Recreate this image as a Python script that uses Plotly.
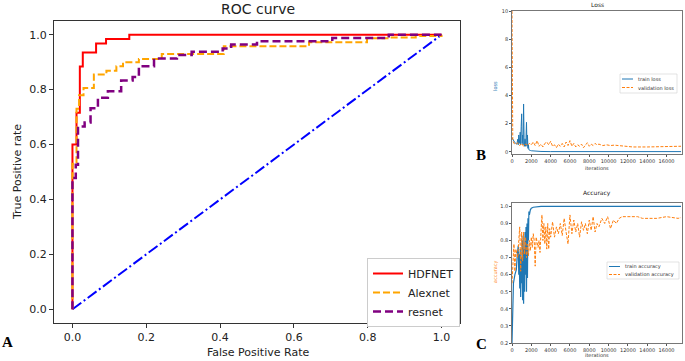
import plotly.graph_objects as go

# ---------------- ROC data ----------------
diag = [0.0, 1.0]
hdf_fpr = [0, 0, 0.011, 0.02, 0.028, 0.064, 0.091, 0.154, 1.0]
hdf_tpr = [0, 0.6, 0.716, 0.884, 0.935, 0.968, 0.984, 1.0, 1.0]
alex_fpr = [0, 0, 0.011, 0.018, 0.03, 0.058, 0.092, 0.119, 0.137, 0.18, 0.242, 0.41, 0.641, 0.798, 0.86, 0.93, 1.0]
alex_tpr = [0, 0.53, 0.73, 0.78, 0.806, 0.855, 0.869, 0.885, 0.9, 0.912, 0.93, 0.958, 0.973, 0.987, 0.99, 0.995, 1.0]
res_fpr = [0, 0, 0.009, 0.015, 0.033, 0.049, 0.069, 0.096, 0.132, 0.163, 0.18, 0.221, 0.283, 0.323, 0.407, 0.43, 0.5, 0.704, 0.857, 1.0]
res_tpr = [0, 0.478, 0.526, 0.666, 0.68, 0.732, 0.77, 0.794, 0.833, 0.846, 0.885, 0.913, 0.926, 0.938, 0.95, 0.964, 0.976, 0.988, 1.0, 1.0]
roc_names = ["HDFNET", "Alexnet", "resnet"]

# ---------------- Loss data ----------------
train_loss_iter = [0, 100, 200, 300, 400, 500, 600, 650, 700, 750,
                   800, 850, 900, 950, 1000, 1050, 1100, 1150, 1200, 1250,
                   1300, 1350, 1400, 1450, 1500, 1550, 1600, 1650, 1700, 1750,
                   1800, 1900, 2000, 2200, 2500, 3000, 4000, 17500]
train_loss = [1.0, 0.85, 0.75, 0.65, 0.6, 0.55, 0.9, 0.5, 1.2, 0.7,
              0.6, 1.4, 0.5, 1.8, 2.7, 0.6, 1.2, 0.5, 3.4, 1.0,
              0.4, 0.9, 0.4, 1.0, 2.1, 0.4, 1.2, 0.25, 0.5, 0.15,
              0.12, 0.1, 0.08, 0.06, 0.05, 0.03, 0.02, 0.02]
val_loss_iter = [0, 40, 80, 200, 400, 600, 800, 1000, 1200, 1400,
                 1600, 1800, 2000, 2200, 2400, 2600, 2800, 3000, 3200, 3400,
                 3600, 3800, 4000, 4200, 4400, 4600, 4800, 5000, 5200, 5400,
                 5600, 5800, 6000, 6200, 6400, 6600, 6800, 7000, 7200, 7400,
                 7600, 7800, 8000, 8200, 8400, 8600, 8800, 9000, 9400, 9800,
                 10200, 10600, 11000, 11400, 11800, 12500, 14000, 15500, 16500, 17500]
val_loss = [10.0, 3.0, 0.9, 0.6, 0.55, 0.65, 0.45, 0.6, 0.4, 0.55,
            0.45, 0.6, 0.5, 0.7, 0.45, 0.8, 0.4, 0.55, 0.35, 0.6,
            0.7, 0.5, 0.75, 0.4, 0.5, 0.3, 0.55, 0.4, 0.6, 0.35,
            0.7, 0.45, 0.8, 0.4, 0.6, 0.35, 0.5, 0.4, 0.55, 0.3,
            0.5, 0.65, 0.4, 0.55, 0.45, 0.6, 0.5, 0.55, 0.45, 0.5,
            0.45, 0.48, 0.45, 0.42, 0.38, 0.35, 0.35, 0.36, 0.38, 0.4]
loss_names = ["train loss", "validation loss"]

# ---------------- Accuracy data ----------------
train_acc_iter = [0, 50, 150, 300, 450, 550, 650, 700, 750, 800,
                  850, 900, 950, 1000, 1050, 1100, 1150, 1200, 1250, 1300,
                  1350, 1400, 1450, 1500, 1550, 1600, 1650, 1700, 1750, 1800,
                  1900, 2000, 2200, 2500, 3000, 17500]
train_acc = [0.2, 0.41, 0.55, 0.6, 0.63, 0.72, 0.77, 0.6, 0.72, 0.52,
             0.75, 0.47, 0.7, 0.55, 0.8, 0.45, 0.83, 0.43, 0.75, 0.5,
             0.85, 0.6, 0.88, 0.5, 0.9, 0.58, 0.93, 0.8, 0.97, 0.95,
             0.98, 0.99, 0.995, 0.998, 1.0, 1.0]
val_acc_iter = [0, 100, 200, 300, 400, 500, 600, 700, 800, 900,
                1000, 1100, 1200, 1300, 1400, 1500, 1600, 1700, 1800, 1900,
                2000, 2100, 2200, 2300, 2400, 2500, 2600, 2700, 2800, 2900,
                3000, 3100, 3200, 3300, 3400, 3500, 3600, 3700, 3800, 3900,
                4000, 4200, 4400, 4600, 4800, 5000, 5200, 5400, 5600, 5800,
                6000, 6200, 6400, 6600, 6800, 7000, 7200, 7400, 7600, 7800,
                8000, 8200, 8400, 8600, 8800, 9000, 9300, 9600, 9900, 10200,
                10500, 10800, 11100, 11400, 12000, 13000, 13500, 14000, 15000, 16000,
                16800, 17200, 17500]
val_acc = [0.55, 0.7, 0.78, 0.62, 0.75, 0.72, 0.7, 0.8, 0.88, 0.62,
           0.85, 0.68, 0.85, 0.72, 0.82, 0.7, 0.78, 0.71, 0.8, 0.74,
           0.82, 0.76, 0.84, 0.8, 0.65, 0.82, 0.78, 0.76, 0.8, 0.73,
           0.85, 0.95, 0.8, 0.9, 0.78, 0.88, 0.75, 0.9, 0.75, 0.87,
           0.82, 0.91, 0.82, 0.88, 0.84, 0.9, 0.83, 0.93, 0.85, 0.78,
           0.95, 0.84, 0.92, 0.85, 0.9, 0.82, 0.91, 0.86, 0.9, 0.84,
           0.92, 0.86, 0.94, 0.85, 0.9, 0.88, 0.93, 0.9, 0.94, 0.87,
           0.92, 0.9, 0.93, 0.94, 0.94, 0.94, 0.93, 0.93, 0.93, 0.94,
           0.935, 0.93, 0.935]
acc_names = ["train accuracy", "validation accuracy"]
iter_ticks = [0, 2000, 4000, 6000, 8000, 10000, 12000, 14000, 16000]

W, H = 685, 361
def fx(p):
    return p / W
def fy(p):
    return 1 - p / H

FONT = "DejaVu Sans"
BLUE = "#1f77b4"
ORANGE = "#ff7f0e"
fig = go.Figure()

# ROC traces
fig.add_trace(go.Scatter(x=diag, y=diag, mode="lines", showlegend=False,
                         line=dict(color="blue", width=2, dash="11px,3px,2px,3px"),
                         xaxis="x", yaxis="y"))
fig.add_trace(go.Scatter(x=hdf_fpr, y=hdf_tpr, mode="lines", name=roc_names[0],
                         line=dict(color="red", width=2, shape="hv"),
                         xaxis="x", yaxis="y"))
fig.add_trace(go.Scatter(x=alex_fpr, y=alex_tpr, mode="lines", name=roc_names[1],
                         line=dict(color="orange", width=2, dash="7px,3px", shape="hv"),
                         xaxis="x", yaxis="y"))
fig.add_trace(go.Scatter(x=res_fpr, y=res_tpr, mode="lines", name=roc_names[2],
                         line=dict(color="purple", width=2.5, dash="8px,4px", shape="hv"),
                         xaxis="x", yaxis="y"))

# Loss traces
fig.add_trace(go.Scatter(x=train_loss_iter, y=train_loss, mode="lines", name=loss_names[0],
                         line=dict(color=BLUE, width=1), showlegend=False,
                         xaxis="x2", yaxis="y2"))
fig.add_trace(go.Scatter(x=val_loss_iter, y=val_loss, mode="lines", name=loss_names[1],
                         line=dict(color=ORANGE, width=1, dash="3px,1.5px"), showlegend=False,
                         xaxis="x2", yaxis="y2"))

# Accuracy traces
fig.add_trace(go.Scatter(x=train_acc_iter, y=train_acc, mode="lines", name=acc_names[0],
                         line=dict(color=BLUE, width=1.2), showlegend=False,
                         xaxis="x3", yaxis="y3"))
fig.add_trace(go.Scatter(x=val_acc_iter, y=val_acc, mode="lines", name=acc_names[1],
                         line=dict(color=ORANGE, width=1, dash="3px,1.5px"), showlegend=False,
                         xaxis="x3", yaxis="y3"))

ax_common = dict(showline=True, mirror=True, linecolor="#333", linewidth=1,
                 ticks="outside", tickcolor="#333", showgrid=False, zeroline=False,
                 automargin=False)
small_common = dict(showline=True, mirror=True, linecolor="#555", linewidth=0.8,
                    ticks="outside", tickcolor="#555", ticklen=2, showgrid=False,
                    zeroline=False, automargin=False, tickfont=dict(size=5, color="#333"))

fig.update_layout(
    width=W, height=H, margin=dict(l=0, r=0, t=0, b=0, autoexpand=False),
    paper_bgcolor="white", plot_bgcolor="white",
    font=dict(family=FONT, color="#222"),
    hovermode=False,
    xaxis=dict(domain=[fx(54), fx(460)], range=[-0.05, 1.05], anchor="y",
               tickvals=[0, 0.2, 0.4, 0.6, 0.8, 1.0], tickformat=".1f",
               ticklen=4, tickfont=dict(size=11), **ax_common),
    yaxis=dict(domain=[fy(323), fy(21)], range=[-0.05, 1.05], anchor="x",
               tickvals=[0, 0.2, 0.4, 0.6, 0.8, 1.0], tickformat=".1f",
               ticklen=4, tickfont=dict(size=11), **ax_common),
    xaxis2=dict(domain=[fx(512), fx(682)], range=[0, 17600], anchor="y2",
                tickvals=iter_ticks, tickformat="d", **small_common),
    yaxis2=dict(domain=[fy(154), fy(11)], range=[-0.15, 10], anchor="x2",
                tickvals=[0, 2, 4, 6, 8, 10], **small_common),
    xaxis3=dict(domain=[fx(512), fx(682)], range=[0, 17600], anchor="y3",
                tickvals=iter_ticks, tickformat="d", **small_common),
    yaxis3=dict(domain=[fy(343), fy(203)], range=[0.2, 1.02], anchor="x3",
                tickvals=[0.2, 0.3, 0.4, 0.5, 0.6, 0.7, 0.8, 0.9, 1.0], tickformat=".1f",
                **small_common),
    showlegend=True,
    legend=dict(x=fx(367), y=fy(258), xanchor="left", yanchor="top",
                bgcolor="white", bordercolor="#ccc", borderwidth=1,
                font=dict(size=11, color="#222"), tracegroupgap=0, itemwidth=30),
)

ann = [
    dict(text="ROC curve", x=fx(258), y=fy(9), size=14, color="#222"),
    dict(text="False Positive Rate", x=fx(258), y=fy(352), size=11, color="#222"),
    dict(text="True Positive rate", x=fx(17), y=fy(172), size=11, color="#222", angle=-90),
    dict(text="Loss", x=fx(597), y=fy(5), size=6, color="#222"),
    dict(text="iterations", x=fx(597), y=fy(168), size=5, color="#333"),
    dict(text="loss", x=fx(495), y=fy(86), size=5, color=BLUE, angle=-90),
    dict(text="Accuracy", x=fx(597), y=fy(193), size=6, color="#222"),
    dict(text="iterations", x=fx(597), y=fy(355), size=5, color="#333"),
    dict(text="accuracy", x=fx(495), y=fy(272), size=5, color=ORANGE, angle=-90),
]
for a in ann:
    fig.add_annotation(text=a["text"], x=a["x"], y=a["y"], xref="paper", yref="paper",
                       showarrow=False, xanchor="center", yanchor="middle",
                       textangle=a.get("angle", 0),
                       font=dict(family=FONT, size=a["size"], color=a["color"]))

for lab, x, y in [("A", 7, 342), ("B", 481, 155), ("C", 481, 344)]:
    fig.add_annotation(text="<b>%s</b>" % lab, x=fx(x), y=fy(y), xref="paper", yref="paper",
                       showarrow=False, xanchor="center", yanchor="middle",
                       font=dict(family="Liberation Serif", size=15, color="black"))

# Small hand-made legends for the two training panels (plotly's legend rows are too tall)
def small_legend(box, rows, names):
    x0, y0, x1, y1 = box
    fig.add_shape(type="rect", xref="paper", yref="paper", layer="above",
                  x0=fx(x0), x1=fx(x1), y0=fy(y1), y1=fy(y0),
                  line=dict(color="#d0d0d0", width=0.6), fillcolor="rgba(255,255,255,0.85)")
    styles = [dict(color=BLUE, width=1), dict(color=ORANGE, width=1, dash="3px,1.5px")]
    for r, name, st in zip(rows, names, styles):
        fig.add_shape(type="line", xref="paper", yref="paper", layer="above",
                      x0=fx(x0 + 2), x1=fx(x0 + 13), y0=fy(r), y1=fy(r), line=st)
        fig.add_annotation(text=name, x=fx(x0 + 16), y=fy(r), xref="paper", yref="paper",
                           showarrow=False, xanchor="left", yanchor="middle",
                           font=dict(family=FONT, size=5, color="#333"))

small_legend((620, 74, 677, 93), (79, 87.5), loss_names)
small_legend((607, 262, 679, 279), (266.5, 274.5), acc_names)

fig.write_html("out.html",
               config={"displayModeBar": False, "staticPlot": True},
               post_script="document.body.style.margin='0';document.body.style.overflow='hidden';")
